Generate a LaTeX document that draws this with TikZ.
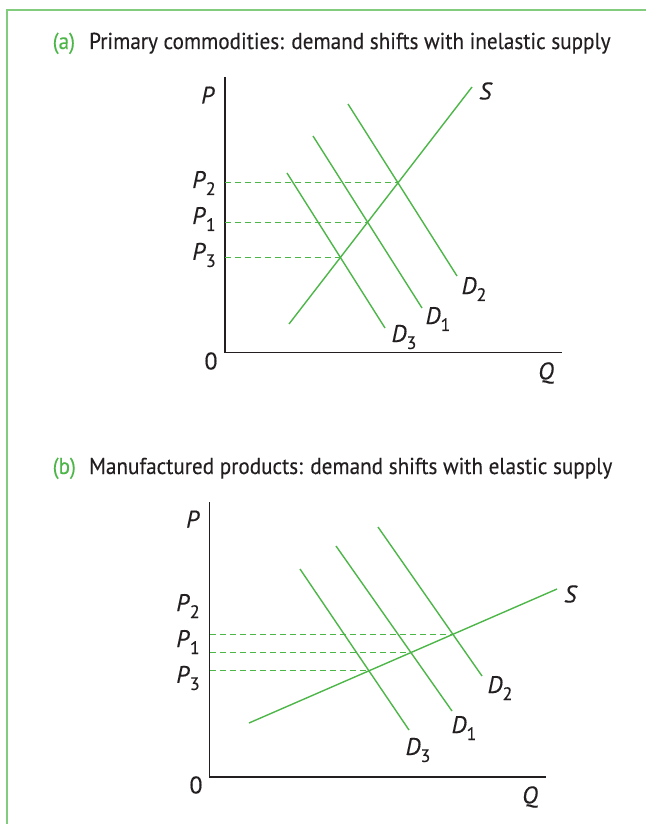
\documentclass[tikz,border=0pt]{standalone}
\usepackage{fontspec}
\setmainfont{PT Sans}[FakeBold=0.25]
\usetikzlibrary{intersections}
\definecolor{curve}{RGB}{77,182,72}
\definecolor{framec}{RGB}{130,205,125}
\definecolor{axisc}{RGB}{35,31,32}
\newcommand{\lab}[2]{\textit{#1}\raisebox{-7pt}{\fontsize{18}{18}\selectfont #2}}
\newcommand{\ttlbox}[1]{\scalebox{0.92}[1]{#1}}
\tikzset{
  curveline/.style={draw=curve, line width=1.4pt},
  axisline/.style={draw=axisc, line width=1.8pt},
  guide/.style={draw=curve, line width=0.9pt, dash pattern=on 6pt off 4pt},
  framel/.style={draw=framec, line width=1.2pt},
  lbl/.style={inner sep=0pt, text=axisc, font=\fontsize{24}{24}\selectfont},
  ttl/.style={inner sep=0pt, anchor=base west, text=axisc, font=\fontsize{23}{23}\selectfont},
  tag/.style={inner sep=0pt, anchor=base west, text=curve, font=\fontsize{23}{23}\selectfont}
}
\begin{document}
\begin{tikzpicture}[x=1pt,y=-1pt]
\useasboundingbox (0,0) rectangle (646,824);
% frame
\coordinate (fb) at (7,824);
\coordinate (fc) at (7,10);
\coordinate (fr) at (646,10);
\draw[framel] (fb) -- (fc) -- (fr);

% ---------------- panel (a) ----------------
\node[tag] (ta) at (52.5,49) {\ttlbox{(a)}};
\node[ttl] (tta) at (89,49) {\ttlbox{Primary commodities: demand shifts with inelastic supply}};

\coordinate (aO) at (225,352.5);
\coordinate (aT) at (225,77);
\coordinate (aR) at (562,352.5);
\draw[axisline] (aT) -- (aO) -- (aR);

\coordinate (aS1) at (289,324);
\coordinate (aS2) at (472,87);
\coordinate (aD31) at (287,173);
\coordinate (aD32) at (385,328);
\coordinate (aD11) at (313,136);
\coordinate (aD12) at (422,308);
\coordinate (aD21) at (348,104);
\coordinate (aD22) at (457,276);
\draw[curveline, name path=aS] (aS1) -- (aS2);
\draw[curveline, name path=aD3] (aD31) -- (aD32);
\draw[curveline, name path=aD1] (aD11) -- (aD12);
\draw[curveline, name path=aD2] (aD21) -- (aD22);
\path[name intersections={of=aS and aD2, by=aE2}];
\path[name intersections={of=aS and aD1, by=aE1}];
\path[name intersections={of=aS and aD3, by=aE3}];
\draw[guide] (aE2 -| aO) -- (aE2);
\draw[guide] (aE1 -| aO) -- (aE1);
\draw[guide] (aE3 -| aO) -- (aE3);

\node[lbl] (aP) at (208,95) {\textit{P}};
\node[lbl] (a0) at (211,361) {0};
\node[lbl] (aQ) at (546,373) {\textit{Q}};
\node[lbl] (aSl) at (486,91) {\textit{S}};
\node[lbl] (aP2) at (204,183) {\lab{P}{2}};
\node[lbl] (aP1) at (204,219) {\lab{P}{1}};
\node[lbl] (aP3) at (204,255) {\lab{P}{3}};
\node[lbl] (aD2l) at (474,289) {\lab{D}{2}};
\node[lbl] (aD1l) at (438,319) {\lab{D}{1}};
\node[lbl] (aD3l) at (404,337) {\lab{D}{3}};

% ---------------- panel (b) ----------------
\node[tag] (tb) at (52.5,474) {\ttlbox{(b)}};
\node[ttl] (ttb) at (89,474) {\ttlbox{Manufactured products: demand shifts with elastic supply}};

\coordinate (bO) at (209.5,777);
\coordinate (bT) at (209.5,502);
\coordinate (bR) at (546,777);
\draw[axisline] (bT) -- (bO) -- (bR);

\coordinate (bS1) at (249,723);
\coordinate (bS2) at (557,589);
\coordinate (bD31) at (300,569);
\coordinate (bD32) at (409,730);
\coordinate (bD11) at (336,546);
\coordinate (bD12) at (452,711);
\coordinate (bD21) at (378,527);
\coordinate (bD22) at (482,676);
\draw[curveline, name path=bS] (bS1) -- (bS2);
\draw[curveline, name path=bD3] (bD31) -- (bD32);
\draw[curveline, name path=bD1] (bD11) -- (bD12);
\draw[curveline, name path=bD2] (bD21) -- (bD22);
\path[name intersections={of=bS and bD2, by=bE2}];
\path[name intersections={of=bS and bD1, by=bE1}];
\path[name intersections={of=bS and bD3, by=bE3}];
\draw[guide] (bE2 -| bO) -- (bE2);
\draw[guide] (bE1 -| bO) -- (bE1);
\draw[guide] (bE3 -| bO) -- (bE3);

\node[lbl] (bP) at (193,519) {\textit{P}};
\node[lbl] (b0) at (196,785) {0};
\node[lbl] (bQ) at (530,797) {\textit{Q}};
\node[lbl] (bSl) at (571,594) {\textit{S}};
\node[lbl] (bP2) at (188,606) {\lab{P}{2}};
\node[lbl] (bP1) at (188,642) {\lab{P}{1}};
\node[lbl] (bP3) at (188,678) {\lab{P}{3}};
\node[lbl] (bD2l) at (500,688) {\lab{D}{2}};
\node[lbl] (bD1l) at (464,728) {\lab{D}{1}};
\node[lbl] (bD3l) at (418,750) {\lab{D}{3}};
\end{tikzpicture}
\end{document}
